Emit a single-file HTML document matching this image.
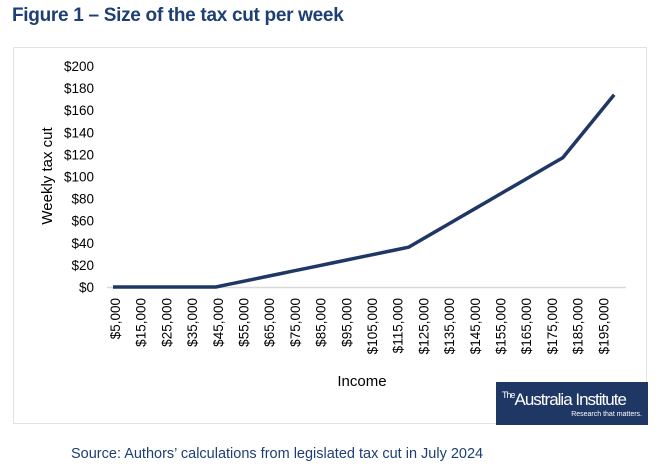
<!DOCTYPE html>
<html><head><meta charset="utf-8"><style>
body{margin:0;width:660px;height:476px;background:#fff;font-family:"Liberation Sans",sans-serif;overflow:hidden;position:relative}
#title{position:absolute;left:12px;top:5px;font-size:19px;font-weight:bold;color:#1d3f73;letter-spacing:-0.3px}
#box{position:absolute;left:13px;top:47px;width:634px;height:377px;border:1px solid #e2e2e2;box-sizing:border-box}
#logo{position:absolute;left:496px;top:382px;width:152px;height:43px;background:#1f3765;color:#fff}
#source{position:absolute;left:71px;top:446px;font-size:14.5px;color:#1d3f73}
</style></head><body>
<div id="title">Figure 1 – Size of the tax cut per week</div>
<div id="box"></div>
<svg id="chart" width="660" height="476" style="position:absolute;left:0;top:0"></svg>
<div id="logo">
<div style="position:absolute;left:6px;top:8px;font-size:17px;letter-spacing:-1px;font-family:'Liberation Sans Narrow','Liberation Sans',sans-serif"><span style="font-size:9px;vertical-align:top">The</span>Australia Institute</div>
<div style="position:absolute;right:6px;top:29px;font-size:7px">Research that matters.</div>
</div>
<div id="source">Source: Authors’ calculations from legislated tax cut in July 2024</div>
<script>
const incomes=[5000,10000,15000,20000,25000,30000,35000,40000,45000,50000,55000,60000,65000,70000,75000,80000,85000,90000,95000,100000,105000,110000,115000,120000,125000,130000,135000,140000,145000,150000,155000,160000,165000,170000,175000,180000,185000,190000,195000,200000];
const taxCut=[0,0,0,0,0,0,0,0,0,2.4,4.8,7.2,9.6,12,14.4,16.8,19.2,21.6,24,26.4,28.8,31.2,33.6,36,42.75,49.5,56.25,63,69.75,76.5,83.25,90,96.75,103.5,110.25,117,131.25,145.5,159.75,174];
const yTicks=[0,20,40,60,80,100,120,140,160,180,200];
const xLabelValues=[5000,15000,25000,35000,45000,55000,65000,75000,85000,95000,105000,115000,125000,135000,145000,155000,165000,175000,185000,195000];
const NS="http://www.w3.org/2000/svg",svg=document.getElementById('chart');
const x=v=>113+(v-5000)/5000*12.85;
const y=v=>287-v*1.105;
function mk(t,a,txt){const e=document.createElementNS(NS,t);for(const k in a)e.setAttribute(k,a[k]);if(txt!==undefined)e.textContent=txt;svg.appendChild(e);return e;}
const ax=mk('line',{x1:107,x2:626,y1:287.5,y2:287.5,stroke:'#d9d9d9','stroke-width':1.5});


yTicks.forEach(v=>{const t=mk('text',{x:94,y:y(v)+5,'text-anchor':'end','font-size':13.5,fill:'#000'},'$'+v);

});
xLabelValues.forEach(v=>{const px=x(v)+2;const t=mk('text',{x:0,y:0,'text-anchor':'end','font-size':13.5,fill:'#000',transform:`translate(${px+5},298) rotate(-90)`},'$'+v.toLocaleString('en-US'));

});
const yt=mk('text',{x:0,y:0,'text-anchor':'middle','font-size':15,fill:'#000',transform:'translate(52,176) rotate(-90)'},'Weekly tax cut');


const xt=mk('text',{x:362,y:386,'text-anchor':'middle','font-size':15,fill:'#000'},'Income');


const ln=mk('polyline',{points:incomes.map((v,i)=>x(v)+','+y(taxCut[i])).join(' '),fill:'none',stroke:'#1f3765','stroke-width':3.5,'stroke-linejoin':'round'});


</script>
</body></html>
